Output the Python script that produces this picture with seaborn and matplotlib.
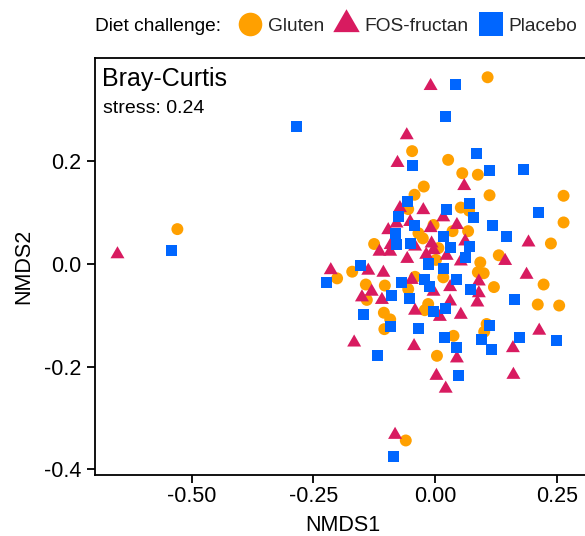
import matplotlib
matplotlib.use("Agg")
import matplotlib.pyplot as plt
from matplotlib.lines import Line2D
import numpy as np
import pandas as pd
import seaborn as sns

# ---------------- data ----------------
gluten_x = [-0.529, 0.108, -0.047, 0.027, -0.023, -0.042, 0.056, 0.088, 0.112, 0.264,
            0.053, 0.070, 0.264, 0.036, 0.068, 0.238, 0.131, 0.093, 0.088, 0.100,
            0.017, 0.223, 0.121, 0.211, 0.255, 0.106, 0.101, 0.038, 0.004, -0.105,
            -0.092, -0.104, -0.021, -0.014, -0.060, -0.055, -0.003, -0.034, -0.025, -0.125,
            0.007, 0.002, -0.170, -0.201, -0.041, -0.103, -0.142, -0.055, -0.140]
gluten_y = [0.068, 0.364, 0.220, 0.203, 0.151, 0.135, 0.177, 0.174, 0.134, 0.133,
            0.110, 0.104, 0.081, 0.064, 0.064, 0.040, 0.017, 0.003, -0.016, -0.018,
            -0.026, -0.040, -0.045, -0.079, -0.081, -0.117, -0.132, -0.140, -0.179, -0.095,
            -0.108, -0.127, -0.090, -0.078, -0.344, 0.107, 0.076, 0.060, 0.050, 0.039,
            0.031, 0.008, -0.015, -0.028, -0.025, -0.042, -0.040, -0.049, -0.070]

fos_x = [-0.652, -0.009, -0.058, -0.077, 0.060, 0.017, 0.045, 0.192, 0.062, 0.024,
         0.053, 0.144, 0.188, 0.090, 0.031, 0.090, 0.031, 0.087, 0.053, 0.010,
         0.214, 0.160, 0.045, 0.161, 0.003, 0.022, -0.041, -0.166, -0.043, -0.082,
         -0.072, -0.024, -0.079, -0.051, -0.009, -0.096, -0.091, -0.041, -0.007, -0.003,
         -0.114, -0.092, -0.057, -0.018, -0.214, -0.137, -0.106, -0.048, -0.003, -0.130,
         -0.150, -0.109]
fos_y = [0.019, 0.347, 0.251, 0.197, 0.152, 0.091, 0.076, 0.042, 0.044, 0.016,
         0.005, 0.006, -0.021, -0.034, -0.045, -0.057, -0.073, -0.075, -0.099, -0.103,
         -0.130, -0.164, -0.184, -0.216, -0.218, -0.243, -0.091, -0.153, -0.160, -0.333,
         0.109, 0.105, 0.079, 0.082, 0.070, 0.066, 0.037, 0.034, 0.040, 0.027,
         0.024, 0.024, 0.010, 0.018, -0.012, -0.013, -0.017, -0.031, -0.054, -0.054,
         -0.065, -0.070]

placebo_x = [-0.541, -0.284, 0.042, 0.021, -0.047, -0.057, 0.085, 0.112, 0.181, 0.024,
             0.070, 0.079, 0.212, 0.118, 0.146, 0.017, 0.070, 0.031, 0.062, 0.017,
             0.045, 0.072, 0.163, 0.021, 0.112, 0.095, 0.116, 0.173, 0.249, 0.020,
             0.045, 0.048, -0.147, -0.091, -0.003, -0.034, -0.118, -0.086, -0.075, -0.043,
             -0.082, -0.079, -0.051, -0.014, -0.153, -0.222, -0.068, -0.021, -0.012, -0.089,
             -0.053]
placebo_y = [0.027, 0.268, 0.350, 0.288, 0.192, 0.122, 0.216, 0.183, 0.185, 0.107,
             0.117, 0.090, 0.101, 0.076, 0.054, 0.053, 0.034, 0.033, 0.013, -0.008,
             -0.030, -0.049, -0.069, -0.086, -0.120, -0.148, -0.166, -0.143, -0.149, -0.143,
             -0.162, -0.218, -0.098, -0.121, -0.092, -0.125, -0.178, -0.376, 0.092, 0.076,
             0.060, 0.038, 0.040, 0.000, -0.002, -0.036, -0.036, -0.030, -0.044, -0.062,
             -0.067]

groups = ["Gluten", "FOS-fructan", "Placebo"]
colors = {"Gluten": "#FFA000", "FOS-fructan": "#D81B60", "Placebo": "#0066FF"}
x_ticks = [-0.50, -0.25, 0.00, 0.25]
x_tick_labels = ["-0.50", "-0.25", "0.00", "0.25"]
y_ticks = [-0.4, -0.2, 0.0, 0.2]
y_tick_labels = ["-0.4", "-0.2", "0.0", "0.2"]

df = pd.DataFrame({
    "NMDS1": gluten_x + fos_x + placebo_x,
    "NMDS2": gluten_y + fos_y + placebo_y,
    "group": ["Gluten"] * len(gluten_x) + ["FOS-fructan"] * len(fos_x) + ["Placebo"] * len(placebo_x),
})

# ---------------- style ----------------
sns.set_theme(style="white")
plt.rcParams["font.family"] = ["Liberation Sans", "DejaVu Sans"]

tri = [(0.0, 1.0), (-0.866, -0.5), (0.866, -0.5)]
markers = {"Gluten": "o", "FOS-fructan": tri, "Placebo": "s"}
sizes = {"Gluten": 74, "FOS-fructan": 135, "Placebo": 63}

W, H = 585, 536
fig = plt.figure(figsize=(W / 100, H / 100), dpi=100)
ax_l, ax_r, ax_t, ax_b = 95, 590, 58, 475
ax = fig.add_axes([ax_l / W, 1 - ax_b / H, (ax_r - ax_l) / W, (ax_b - ax_t) / H])

sns.scatterplot(data=df, x="NMDS1", y="NMDS2", hue="group", style="group", size="group",
                hue_order=groups, style_order=groups, size_order=groups,
                palette=colors, markers=markers, sizes=sizes,
                linewidth=0, edgecolor="none", legend=False, ax=ax)

x0 = 435.0; xs = 487.0
y0 = 264.0; ys = 513.0
ax.set_xlim((ax_l - x0) / xs, (ax_r - x0) / xs)
ax.set_ylim((y0 - ax_b) / ys, (y0 - ax_t) / ys)

ax.set_xticks(x_ticks)
ax.set_xticklabels(x_tick_labels)
ax.set_yticks(y_ticks)
ax.set_yticklabels(y_tick_labels)
ax.tick_params(axis="both", which="major", length=5.5, width=1.3, color="black",
               labelcolor="black", labelsize=15.5, bottom=True, left=True)
ax.tick_params(axis="x", pad=2.5)
ax.tick_params(axis="y", pad=4.5)
for side in ["left", "bottom", "top"]:
    ax.spines[side].set_visible(True)
    ax.spines[side].set_color("black")
    ax.spines[side].set_linewidth(1.3)
ax.spines["right"].set_visible(False)
ax.set_xlabel("NMDS1", fontsize=15.5, color="black", labelpad=6)
ax.set_ylabel("NMDS2", fontsize=15.5, color="black", labelpad=7)
ax.grid(False)

fig.text(101.5 / W, 1 - 86 / H, "Bray-Curtis", fontsize=18, va="baseline", ha="left", color="black")
fig.text(103 / W, 1 - 113 / H, "stress: 0.24", fontsize=14, va="baseline", ha="left", color="black")

# legend on top
fig.text(95 / W, 1 - 31 / H, "Diet challenge:", fontsize=13.8, va="baseline", ha="left", color="black")
handles = [
    Line2D([], [], linestyle="None", marker="o", markersize=17, color=colors["Gluten"], markeredgewidth=0),
    Line2D([], [], linestyle="None", marker=tri, markersize=22, color=colors["FOS-fructan"], markeredgewidth=0),
    Line2D([], [], linestyle="None", marker="s", markersize=17, color=colors["Placebo"], markeredgewidth=0),
]
fig.legend(handles, groups, loc="center left", bbox_to_anchor=(238 / W, 1 - 26 / H),
           ncol=3, frameon=False, fontsize=13.8, handlelength=1.25, handletextpad=0.3,
           columnspacing=0.55, borderpad=0, borderaxespad=0)

fig.savefig("out.png", dpi=100)
